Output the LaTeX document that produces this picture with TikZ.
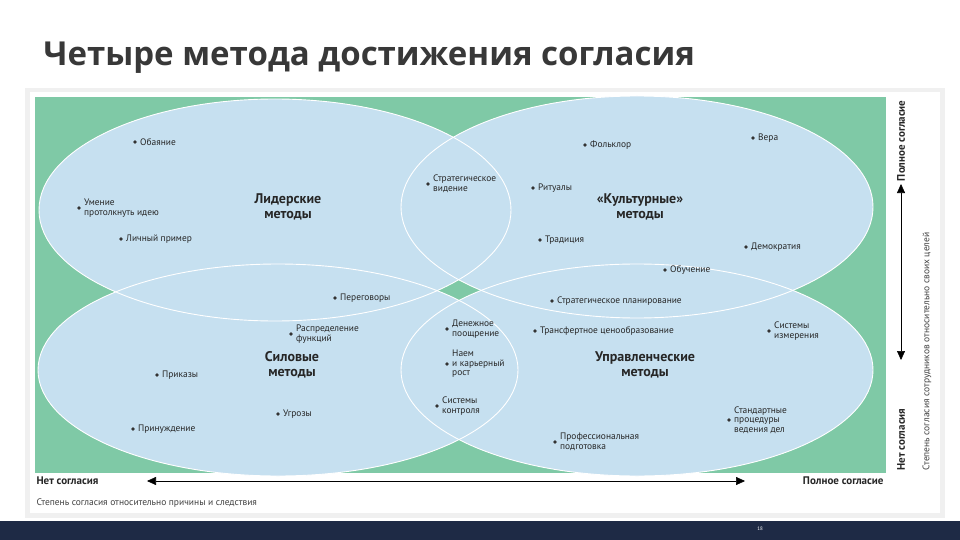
\documentclass[tikz,border=0pt]{standalone}
\usepackage{fontspec}
\setmainfont{PT Sans}
\newfontfamily\titlefont{Open Sans}
\usetikzlibrary{arrows.meta}
\definecolor{grn}{HTML}{7FC9A6}
\definecolor{ell}{HTML}{C6E0F0}
\definecolor{navy}{HTML}{1E2A45}
\begin{document}
\begin{tikzpicture}[x=1pt,y=-1pt,
  itm/.style={font=\fontsize{9.4}{9.6}\selectfont,anchor=west,align=left,inner sep=0pt,text=black!85},
  dot/.style={circle,fill=black!80,inner sep=0pt,minimum size=3.8pt},
  big/.style={font=\fontsize{14}{15}\selectfont\bfseries,align=center,text=black!85},
  ax/.style={font=\fontsize{11}{12}\selectfont\bfseries,text=black!85}]
\useasboundingbox (0,0) rectangle (960,540);
\fill[white] (0,0) rectangle (960,540);
\fill[black!6] (25,88) rectangle (945,518);
\fill[white] (30,92) rectangle (940,513);
\node[anchor=west,font=\titlefont\bfseries\fontsize{33}{36}\selectfont,text=black!78] (title) at (40,58) {Четыре метода достижения согласия};
\fill[grn] (35,97) rectangle (886,473);
\fill[ell] (275,210) ellipse (236 and 111);
\fill[ell] (637,207) ellipse (236 and 111);
\fill[ell] (278,370) ellipse (240 and 106);
\fill[ell] (637,370) ellipse (236 and 106);
\draw[white,line width=0.9pt] (275,210) ellipse (236 and 111);
\draw[white,line width=0.9pt] (637,207) ellipse (236 and 111);
\draw[white,line width=0.9pt] (278,370) ellipse (240 and 106);
\draw[white,line width=0.9pt] (637,370) ellipse (236 and 106);
% big labels
\node[big] (l1) at (288,207) {Лидерские\\методы};
\node[big] (l2) at (640,207) {«Культурные»\\методы};
\node[big] (l3) at (292,365) {Силовые\\методы};
\node[big] (l4) at (645,365) {Управленческие\\методы};
% items
\newcommand\itemat[3]{\node[dot] (#1d) at (#2) {}; \node[itm] (#1) at ([xshift=5pt]#1d.center) {#3};}
\itemat{a1}{135,142}{Обаяние}
\itemat{a2}{79,208}{Умение\\протолкнуть идею}
\itemat{a3}{121,239}{Личный пример}
\itemat{a4}{428,184}{Стратегическое\\видение}
\itemat{b1}{585,145}{Фольклор}
\itemat{b2}{753,138}{Вера}
\itemat{b3}{533,188}{Ритуалы}
\itemat{b4}{540,240}{Традиция}
\itemat{b5}{746,247}{Демократия}
\itemat{b6}{665,270}{Обучение}
\itemat{c1}{335,298}{Переговоры}
\itemat{c2}{291,334}{Распределение\\функций}
\itemat{c3}{157,375}{Приказы}
\itemat{c4}{278,414}{Угрозы}
\itemat{c5}{133,429}{Принуждение}
\itemat{d1}{552,301}{Стратегическое планирование}
\itemat{d2}{447,329}{Денежное\\поощрение}
\itemat{d3}{535,331}{Трансфертное ценообразование}
\itemat{d4}{769,331}{Системы\\измерения}
\itemat{d5}{447,364}{Наем\\и карьерный\\рост}
\itemat{d6}{437,406}{Системы\\контроля}
\itemat{d7}{729,420}{Стандартные\\процедуры\\ведения дел}
\itemat{d8}{555,442}{Профессиональная\\подготовка}
% axes
\node[ax,anchor=west] (xn) at (33,481) {Нет согласия};
\node[ax,anchor=east] (xp) at (887,481) {Полное согласие};
\draw[{Triangle[length=9pt,width=8pt]}-{Triangle[length=9pt,width=8pt]},line width=0.6pt] (147,481) coordinate (xa) -- (745,481) coordinate (xb);
\node[font=\fontsize{9.5}{10}\selectfont,anchor=west,text=black!75] (xl) at (33,503) {Степень согласия относительно причины и следствия};
\node[ax,rotate=90,anchor=west] (yn) at (901,474) {Нет согласия};
\node[ax,rotate=90,anchor=east] (yp) at (901,97) {Полное согласие};
\draw[{Triangle[length=9pt,width=8pt]}-{Triangle[length=9pt,width=8pt]},line width=0.6pt] (901,360) coordinate (ya) -- (901,184) coordinate (yb);
\node[font=\fontsize{9.5}{10}\selectfont,rotate=90,anchor=west,text=black!75] (yl) at (927,474) {Степень согласия сотрудников относительно своих целей};
% footer
\fill[navy] (0,521) rectangle (960,540);
\node[text=white,font=\fontsize{5}{6}\selectfont] (pg) at (760,529) {18};
\end{tikzpicture}
\end{document}
